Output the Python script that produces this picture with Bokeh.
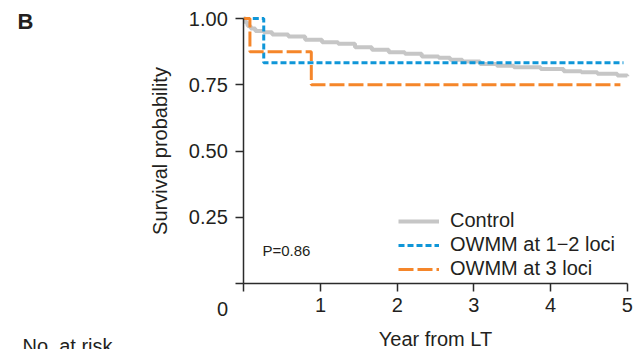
from bokeh.plotting import figure
from bokeh.models import Range1d, FixedTicker, CustomJSTickFormatter, Label, Legend, LegendItem
from bokeh.embed import file_html
from bokeh.resources import INLINE

# Data
control_t = [0, 0.02, 0.05, 0.09, 0.15, 0.26, 0.37, 0.58, 0.80, 1.02, 1.23, 1.45, 1.67, 1.89,
             2.10, 2.32, 2.54, 2.69, 2.85, 3.08, 3.30, 3.52, 3.87, 4.17, 4.40, 4.61, 4.87, 5.0]
control_s = [1.0, 0.985, 0.972, 0.962, 0.953, 0.948, 0.940, 0.932, 0.920, 0.911, 0.905, 0.892, 0.882, 0.873,
             0.867, 0.857, 0.852, 0.845, 0.838, 0.829, 0.822, 0.816, 0.810, 0.801, 0.797, 0.792, 0.785, 0.782]
owmm12_t = [0, 0.26, 4.95]
owmm12_s = [1.0, 0.833, 0.833]
owmm3_t = [0, 0.08, 0.88, 4.91]
owmm3_s = [1.0, 0.875, 0.75, 0.75]
series_labels = ["Control", "OWMM at 1\u22122 loci", "OWMM at 3 loci"]
x_ticks = [0, 1, 2, 3, 4, 5]
y_ticks = [0, 0.25, 0.5, 0.75, 1.0]

FONT = "Liberation Sans"
TXT = "#231f20"
AX = "#2b2b2b"

W, H = 641, 349
p = figure(width=W, height=H, output_backend="svg", toolbar_location=None,
           x_range=Range1d(-3.172, 5.185), y_range=Range1d(-0.2476, 1.0679),
           min_border_left=0, min_border_right=0, min_border_top=0, min_border_bottom=0)
p.outline_line_color = None
p.xgrid.visible = False
p.ygrid.visible = False
p.background_fill_color = "white"
p.border_fill_color = "white"

r1 = p.step(control_t, control_s, mode="after", line_color="#c6c6c6", line_width=4)
r2 = p.step(owmm12_t, owmm12_s, mode="after", line_color="#0f96d8", line_width=3, line_dash="6 3")
r3 = p.step(owmm3_t, owmm3_s, mode="after", line_color="#f5862a", line_width=3, line_dash="15 4")

for ax in (p.xaxis[0], p.yaxis[0]):
    ax.fixed_location = 0
    ax.axis_line_color = AX
    ax.axis_line_width = 1.5
    ax.major_tick_line_color = AX
    ax.major_tick_line_width = 1.5
    ax.major_tick_out = 8
    ax.major_tick_in = 0
    ax.minor_tick_line_color = None
    ax.major_label_text_font = FONT
    ax.major_label_text_font_size = "20px"
    ax.major_label_text_color = TXT
    ax.axis_label_text_font = FONT
    ax.axis_label_text_font_size = "20px"
    ax.axis_label_text_font_style = "normal"
    ax.axis_label_text_color = TXT

p.xaxis.ticker = FixedTicker(ticks=x_ticks)
p.yaxis.ticker = FixedTicker(ticks=y_ticks)
p.xaxis.formatter = CustomJSTickFormatter(code="return tick == 0 ? '' : tick.toFixed(0);")
p.yaxis.formatter = CustomJSTickFormatter(code="return tick == 0 ? '' : tick.toFixed(2);")
p.xaxis.bounds = (0, 5)
p.yaxis.bounds = (0, 1)
p.xaxis.axis_label = "Year from LT"
p.yaxis.axis_label = "Survival probability"
p.xaxis.major_label_standoff = 6
p.yaxis.major_label_standoff = 8
p.xaxis.axis_label_standoff = 13
p.yaxis.axis_label_standoff = 15

legend = Legend(items=[LegendItem(label=series_labels[0], renderers=[r1]),
                       LegendItem(label=series_labels[1], renderers=[r2]),
                       LegendItem(label=series_labels[2], renderers=[r3])],
                location=(398, 69), padding=0, margin=0, spacing=1,
                glyph_width=41, glyph_height=20, label_height=20, label_standoff=11,
                label_text_font=FONT, label_text_font_size="20px", label_text_color=TXT,
                background_fill_alpha=0, border_line_alpha=0)
p.add_layout(legend)

def lab(text, x, y, size, style="normal", align="left"):
    p.add_layout(Label(x=x, y=y, x_units="screen", y_units="screen", text=text,
                       text_font=FONT, text_font_size=size, text_font_style=style,
                       text_color=TXT, text_align=align, text_baseline="alphabetic"))

lab("B", 17, 328, "22px", "bold")
lab("P=0.86", 262, 99, "15px")
lab("0", 222, 41, "20px", align="center")
lab("No. at risk", 22, 4, "20px")

open("out.html", "w").write(file_html(p, INLINE))
